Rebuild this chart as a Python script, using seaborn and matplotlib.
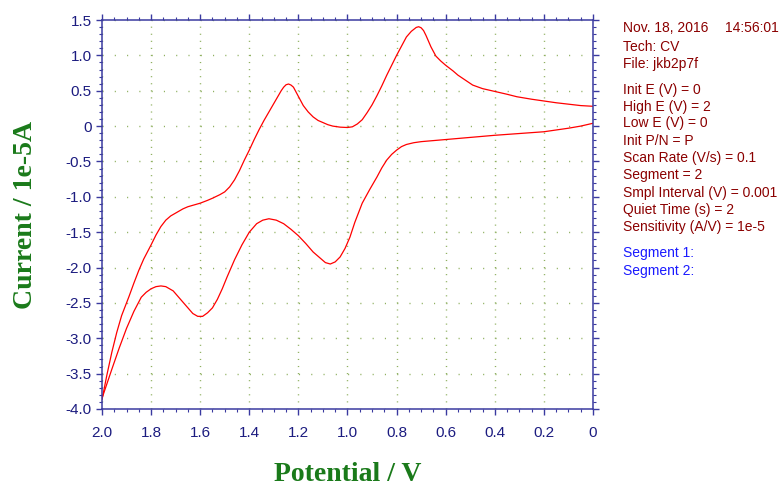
import pandas as pd
import numpy as np
import matplotlib
matplotlib.use("Agg")
import matplotlib.pyplot as plt
import seaborn as sns
from matplotlib.ticker import MultipleLocator, FixedLocator

# CV data (potential in V, current in 1e-5 A)
# segment 1: 0 V -> 2 V (lower branch)
fwd_E = [0.0, 0.05, 0.1, 0.2, 0.3, 0.4, 0.5, 0.6, 0.65, 0.7, 0.73, 0.76, 0.78, 0.80, 0.82,
         0.84, 0.86, 0.88, 0.91, 0.94, 0.97, 0.99, 1.01, 1.03, 1.05, 1.07, 1.09, 1.11, 1.14,
         1.17, 1.20, 1.23, 1.26, 1.29, 1.32, 1.345, 1.37, 1.40, 1.43, 1.46, 1.49, 1.51, 1.53,
         1.55, 1.57, 1.59, 1.61, 1.63, 1.65, 1.68, 1.71, 1.74, 1.76, 1.78, 1.80, 1.82, 1.84,
         1.87, 1.90, 1.93, 1.96, 2.0]
fwd_I = [0.04, 0.0, -0.03, -0.08, -0.105, -0.13, -0.16, -0.19, -0.205, -0.22, -0.235, -0.26,
         -0.29, -0.34, -0.40, -0.48, -0.59, -0.72, -0.90, -1.09, -1.36, -1.57, -1.73, -1.85,
         -1.92, -1.95, -1.93, -1.87, -1.78, -1.66, -1.55, -1.46, -1.38, -1.33, -1.31, -1.33,
         -1.38, -1.50, -1.68, -1.89, -2.13, -2.30, -2.45, -2.57, -2.64, -2.69, -2.69, -2.65,
         -2.57, -2.45, -2.33, -2.27, -2.26, -2.27, -2.30, -2.35, -2.42, -2.62, -2.86, -3.14,
         -3.44, -3.85]

# segment 2: 2 V -> 0 V (upper branch)
rev_E = [2.0, 1.98, 1.96, 1.94, 1.92, 1.89, 1.87, 1.85, 1.83, 1.80, 1.78, 1.76, 1.74, 1.72,
         1.70, 1.67, 1.65, 1.62, 1.60, 1.57, 1.55, 1.52, 1.50, 1.48, 1.46, 1.44, 1.42, 1.40,
         1.38, 1.36, 1.34, 1.32, 1.30, 1.28, 1.27, 1.26, 1.25, 1.24, 1.23, 1.22, 1.20, 1.18,
         1.16, 1.14, 1.12, 1.10, 1.08, 1.06, 1.03, 1.0, 0.98, 0.96, 0.94, 0.92, 0.90, 0.88,
         0.86, 0.84, 0.82, 0.80, 0.78, 0.76, 0.74, 0.72, 0.71, 0.70, 0.69, 0.68, 0.66, 0.64,
         0.62, 0.60, 0.57, 0.55, 0.52, 0.49, 0.45, 0.40, 0.35, 0.31, 0.25, 0.2, 0.15, 0.1,
         0.05, 0.0]
rev_I = [-3.87, -3.52, -3.20, -2.92, -2.68, -2.41, -2.22, -2.04, -1.88, -1.68, -1.54, -1.42,
         -1.33, -1.27, -1.23, -1.17, -1.14, -1.11, -1.09, -1.05, -1.02, -0.97, -0.93, -0.86,
         -0.76, -0.63, -0.48, -0.34, -0.19, -0.05, 0.08, 0.20, 0.32, 0.44, 0.50, 0.55, 0.585,
         0.595, 0.58, 0.55, 0.42, 0.29, 0.20, 0.13, 0.08, 0.05, 0.02, 0.0, -0.015, -0.02,
         -0.01, 0.03, 0.09, 0.19, 0.30, 0.43, 0.57, 0.72, 0.86, 1.0, 1.13, 1.26, 1.34, 1.395,
         1.405, 1.39, 1.35, 1.28, 1.12, 0.99, 0.92, 0.86, 0.78, 0.72, 0.65, 0.58, 0.53, 0.49,
         0.45, 0.415, 0.38, 0.355, 0.33, 0.31, 0.29, 0.28]

x_ticks = [2.0, 1.8, 1.6, 1.4, 1.2, 1.0, 0.8, 0.6, 0.4, 0.2, 0.0]
x_tick_labels = ["2.0", "1.8", "1.6", "1.4", "1.2", "1.0", "0.8", "0.6", "0.4", "0.2", "0"]
y_ticks = [1.5, 1.0, 0.5, 0.0, -0.5, -1.0, -1.5, -2.0, -2.5, -3.0, -3.5, -4.0]
y_tick_labels = ["1.5", "1.0", "0.5", "0", "-0.5", "-1.0", "-1.5", "-2.0", "-2.5",
                 "-3.0", "-3.5", "-4.0"]

info_lines = ["Tech: CV", "File: jkb2p7f", "Init E (V) = 0", "High E (V) = 2", "Low E (V) = 0",
              "Init P/N = P", "Scan Rate (V/s) = 0.1", "Segment = 2",
              "Smpl Interval (V) = 0.001", "Quiet Time (s) = 2", "Sensitivity (A/V) = 1e-5"]
seg_lines = ["Segment 1:", "Segment 2:"]

fwd = pd.DataFrame({"E": fwd_E, "I": fwd_I})
rev = pd.DataFrame({"E": rev_E, "I": rev_I})

sns.set_style("ticks")
plt.rcParams["font.family"] = ["Liberation Sans", "DejaVu Sans"]

spine_col = "#3a3aa0"
lab_col = "#1c1c80"
grid_col = "#8fb060"
info_col = "#8b0000"

fig = plt.figure(figsize=(7.82, 4.88), dpi=100)
ax = fig.add_axes([0.1304, 0.1619, 0.6279, 0.7971])

sns.lineplot(data=fwd, x="E", y="I", sort=False, estimator=None, color="red", lw=0.9, ax=ax)
sns.lineplot(data=rev, x="E", y="I", sort=False, estimator=None, color="red", lw=0.9, ax=ax)

ax.set_xlim(2.0, 0.0)
ax.set_ylim(-4.0, 1.5)
ax.xaxis.set_major_locator(FixedLocator(x_ticks))
ax.set_xticklabels(x_tick_labels)
ax.yaxis.set_major_locator(FixedLocator(y_ticks))
ax.set_yticklabels(y_tick_labels)
ax.xaxis.set_minor_locator(MultipleLocator(0.05))
ax.yaxis.set_minor_locator(MultipleLocator(0.1))

for s in ax.spines.values():
    s.set_visible(True)
    s.set_color(spine_col)
    s.set_linewidth(1.1)

ax.tick_params(which="both", direction="out", color=spine_col, top=True, right=True,
               labeltop=False, labelright=False)
ax.tick_params(which="major", length=4, width=1)
ax.tick_params(which="minor", length=2.5, width=0.8)
ax.tick_params(axis="x", which="major", labelsize=11, labelcolor=lab_col, pad=8)
ax.tick_params(axis="y", which="major", labelsize=11, labelcolor=lab_col, pad=3.5)

# dotted grid: dots fall on minor tick positions
ax.xaxis.grid(True, which="major", color=grid_col, lw=1.0, linestyle=(0, (0.8, 4.29)))
ax.yaxis.grid(True, which="major", color=grid_col, lw=1.0, linestyle=(0, (0.8, 8.04)))

ax.set_xlabel("Potential / V", family="Liberation Serif", fontweight="bold", fontsize=20,
              color="#1a7a1a")
ax.set_ylabel("Current / 1e-5A", family="Liberation Serif", fontweight="bold", fontsize=20,
              color="#1a7a1a")
ax.xaxis.set_label_coords(0.5, -0.137)
ax.yaxis.set_label_coords(-0.13, 0.5)

# instrument info panel
fig.text(623 / 782, 1 - 28.5 / 488, "Nov. 18, 2016", color=info_col, fontsize=10, va="center")
fig.text(725 / 782, 1 - 28.5 / 488, "14:56:01", color=info_col, fontsize=10, va="center")
info_y = [46.7, 64.3, 90, 107.5, 123.3, 140.7, 158.3, 175, 192.7, 210, 227.3]
for txt, yy in zip(info_lines, info_y):
    fig.text(623 / 782, 1 - yy / 488, txt, color=info_col, fontsize=10, va="center")
for txt, yy in zip(seg_lines, [253.3, 271]):
    fig.text(623 / 782, 1 - yy / 488, txt, color="#1a1aff", fontsize=10, va="center")

fig.savefig("out.png", dpi=100)
